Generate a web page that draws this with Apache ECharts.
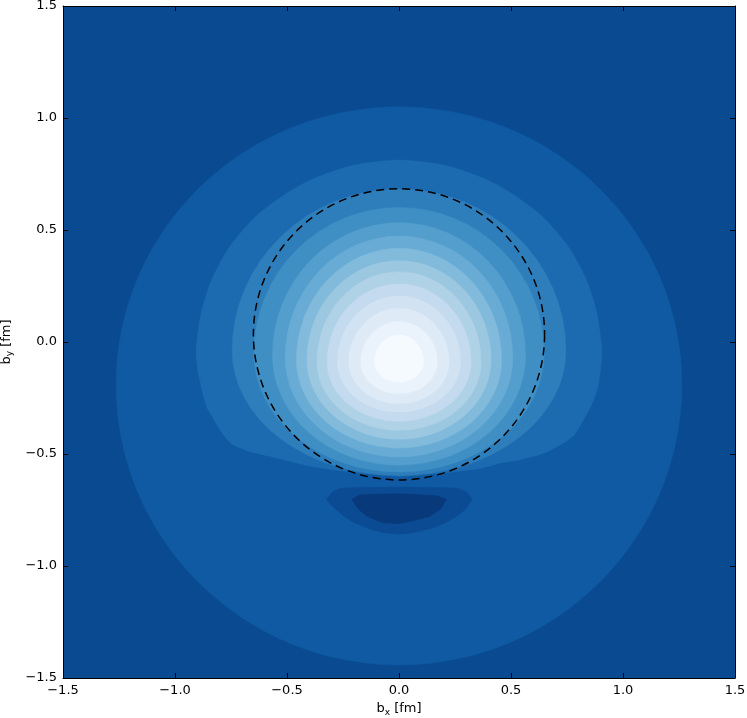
<!DOCTYPE html>
<html>
<head>
<meta charset="utf-8">
<script src="https://cdn.jsdelivr.net/npm/echarts@6/dist/echarts.min.js"></script>
<style>
  html, body { margin: 0; padding: 0; background: #fff; }
  #main { width: 747px; height: 718px; }
</style>
</head>
<body>
<div id="main"></div>
<script>
// filled contour boundaries, innermost first (values in fm)
var ringTop       = [0.031, 0.091, 0.150, 0.205, 0.259, 0.313, 0.363, 0.418, 0.473, 0.533, 0.601, 0.683];
var ringBottom    = [-0.179, -0.231, -0.275, -0.313, -0.354, -0.394, -0.434, -0.473, -0.513, -0.550, -0.580, -0.596];
var ringHalfWidth = [0.110, 0.171, 0.224, 0.275, 0.321, 0.366, 0.411, 0.458, 0.508, 0.565, 0.648, 0.745];
var ringWidestY   = [-0.09, -0.09, -0.09, -0.09, -0.09, -0.09, -0.08, -0.08, -0.07, -0.06, -0.05, -0.04];

// outermost disc: top, bottom, half width, height of widest point
var outerDisc = [1.050, -1.442, 1.263, -0.19];

// the flat-bottomed level just outside the rings
var pearOutline = [
  [0, 0.8125], [0.20, 0.79], [0.38, 0.73], [0.50, 0.665], [0.64, 0.56], [0.76, 0.42],
  [0.84, 0.27], [0.885, 0.12], [0.906, -0.04], [0.900, -0.12], [0.886, -0.208],
  [0.86, -0.28], [0.835, -0.327], [0.783, -0.413], [0.74, -0.448], [0.70, -0.47],
  [0.655, -0.494], [0.545, -0.524], [0.446, -0.542], [0.374, -0.562], [0.223, -0.582],
  [0.10, -0.594], [0, -0.600], [-0.174, -0.586], [-0.382, -0.557], [-0.52, -0.524],
  [-0.606, -0.504], [-0.67, -0.488], [-0.725, -0.467], [-0.754, -0.450], [-0.799, -0.393],
  [-0.835, -0.33], [-0.859, -0.289], [-0.896, -0.14], [-0.906, -0.04], [-0.885, 0.12],
  [-0.84, 0.27], [-0.76, 0.42], [-0.64, 0.56], [-0.50, 0.665], [-0.38, 0.73], [-0.20, 0.79]
];

// negative dip below the peak
var dipOuter = [
  [-0.323, -0.703], [-0.295, -0.668], [-0.255, -0.652], [0, -0.648], [0.255, -0.652],
  [0.300, -0.670], [0.326, -0.703], [0.297, -0.746], [0.254, -0.780], [0.200, -0.810],
  [0.140, -0.833], [0.070, -0.850], [0, -0.857], [-0.070, -0.851], [-0.139, -0.831],
  [-0.200, -0.806], [-0.242, -0.780], [-0.293, -0.737]
];
var dipInner = [
  [-0.211, -0.702], [-0.174, -0.683], [-0.139, -0.681], [0, -0.677], [0.169, -0.686],
  [0.211, -0.703], [0.186, -0.746], [0.134, -0.780], [0.066, -0.797], [0, -0.811],
  [-0.074, -0.806], [-0.139, -0.780], [-0.182, -0.746]
];

// dashed reference circle: centre x, centre y, radius
var refCircle = [0, 0.034, 0.65];

// band colours from the peak outwards (Blues)
var ringColors = ['#f5faff', '#eaf3fb', '#deebf7', '#d1e3f3', '#c4daee', '#b0d2e7', '#9bc8e0',
  '#81badb', '#68acd5', '#539ecd', '#3f8fc4', '#2e7ebc', '#1c6aaf'];
var discColor = '#0f5aa3';
var backColor = '#094a91';
var dipColors = ['#0a4b93', '#08397a'];

// paint order: outside in
var shapes = [];
shapes.push({ egg: outerDisc, color: discColor });
shapes.push({ poly: pearOutline, color: ringColors[12], smooth: 0.25 });
for (var i = ringTop.length - 1; i >= 0; i--) {
  shapes.push({ egg: [ringTop[i], ringBottom[i], ringHalfWidth[i], ringWidestY[i]], color: ringColors[i] });
}
shapes.push({ poly: dipOuter, color: dipColors[0], smooth: 0.1 });
shapes.push({ poly: dipInner, color: dipColors[1], smooth: 0 });

function eggPath(api, e) {
  var c = api.coord([0, e[3]]);
  var rx = api.size([e[2], 0])[0];
  var rt = api.size([0, e[0] - e[3]])[1];
  var rb = api.size([0, e[3] - e[1]])[1];
  return 'M' + (c[0] - rx) + ' ' + c[1] +
    ' A' + rx + ' ' + rt + ' 0 0 1 ' + (c[0] + rx) + ' ' + c[1] +
    ' A' + rx + ' ' + rb + ' 0 0 1 ' + (c[0] - rx) + ' ' + c[1] + ' Z';
}

function tickFmt(v) {
  return v.toFixed(1).replace('-', '\u2212');
}

var font = 'DejaVu Sans';
var axisCommon = {
  type: 'value', min: -1.5, max: 1.5, interval: 0.5,
  axisLine: { show: true, onZero: false, lineStyle: { color: '#000', width: 1 } },
  axisTick: { show: true, inside: true, length: 5, lineStyle: { color: '#000' } },
  splitLine: { show: false }
};
function axis(extra) {
  return Object.assign({}, axisCommon, extra);
}
var nameRich = {
  m: { fontFamily: font, fontSize: 13, color: '#000' },
  s: { fontFamily: font, fontSize: 9, color: '#000', padding: [7, 0, 0, 0] }
};

var chart = echarts.init(document.getElementById('main'), null, { renderer: 'canvas' });
chart.setOption({
  backgroundColor: '#fff',
  animation: false,
  grid: {
    left: 63, top: 6, right: 12, bottom: 40,
    containLabel: false, outerBoundsMode: 'none',
    show: true, backgroundColor: backColor, borderWidth: 0
  },
  xAxis: [
    axis({
      position: 'bottom',
      axisLabel: { formatter: tickFmt, color: '#000', fontFamily: font, fontSize: 13, margin: 6 },
      name: '{m|b}{s|x}{m| [fm]}', nameLocation: 'middle', nameGap: 23,
      nameTextStyle: { rich: nameRich }
    }),
    axis({ position: 'top', axisLabel: { show: false } })
  ],
  yAxis: [
    axis({
      position: 'left',
      axisLabel: { formatter: tickFmt, color: '#000', fontFamily: font, fontSize: 13, margin: 6 },
      name: '{m|b}{s|y}{m| [fm]}', nameLocation: 'middle', nameGap: 44, nameRotate: 90,
      nameTextStyle: { rich: nameRich }
    }),
    axis({ position: 'right', axisLabel: { show: false } })
  ],
  series: [
    {
      type: 'custom',
      coordinateSystem: 'cartesian2d',
      xAxisIndex: 0, yAxisIndex: 0,
      silent: true,
      data: shapes.map(function (s, i) { return [0, 0, i]; }),
      encode: { x: 0, y: 1 },
      renderItem: function (params, api) {
        var s = shapes[params.dataIndex];
        if (s.egg) {
          return {
            type: 'path',
            shape: { pathData: eggPath(api, s.egg) },
            style: { fill: s.color, stroke: s.color, lineWidth: 0.5 }
          };
        }
        return {
          type: 'polygon',
          shape: { points: s.poly.map(function (p) { return api.coord(p); }), smooth: s.smooth },
          style: { fill: s.color, stroke: s.color, lineWidth: 0.5 }
        };
      }
    },
    {
      type: 'custom',
      coordinateSystem: 'cartesian2d',
      silent: true,
      z: 5,
      data: [refCircle],
      encode: { x: 0, y: 1 },
      renderItem: function (params, api) {
        var c = api.coord([api.value(0), api.value(1)]);
        var r = api.size([api.value(2), 0])[0];
        return {
          type: 'circle',
          shape: { cx: c[0], cy: c[1], r: r },
          style: { fill: 'none', stroke: '#000', lineWidth: 1.5, lineDash: [8, 5] }
        };
      }
    }
  ]
});
</script>
</body>
</html>
